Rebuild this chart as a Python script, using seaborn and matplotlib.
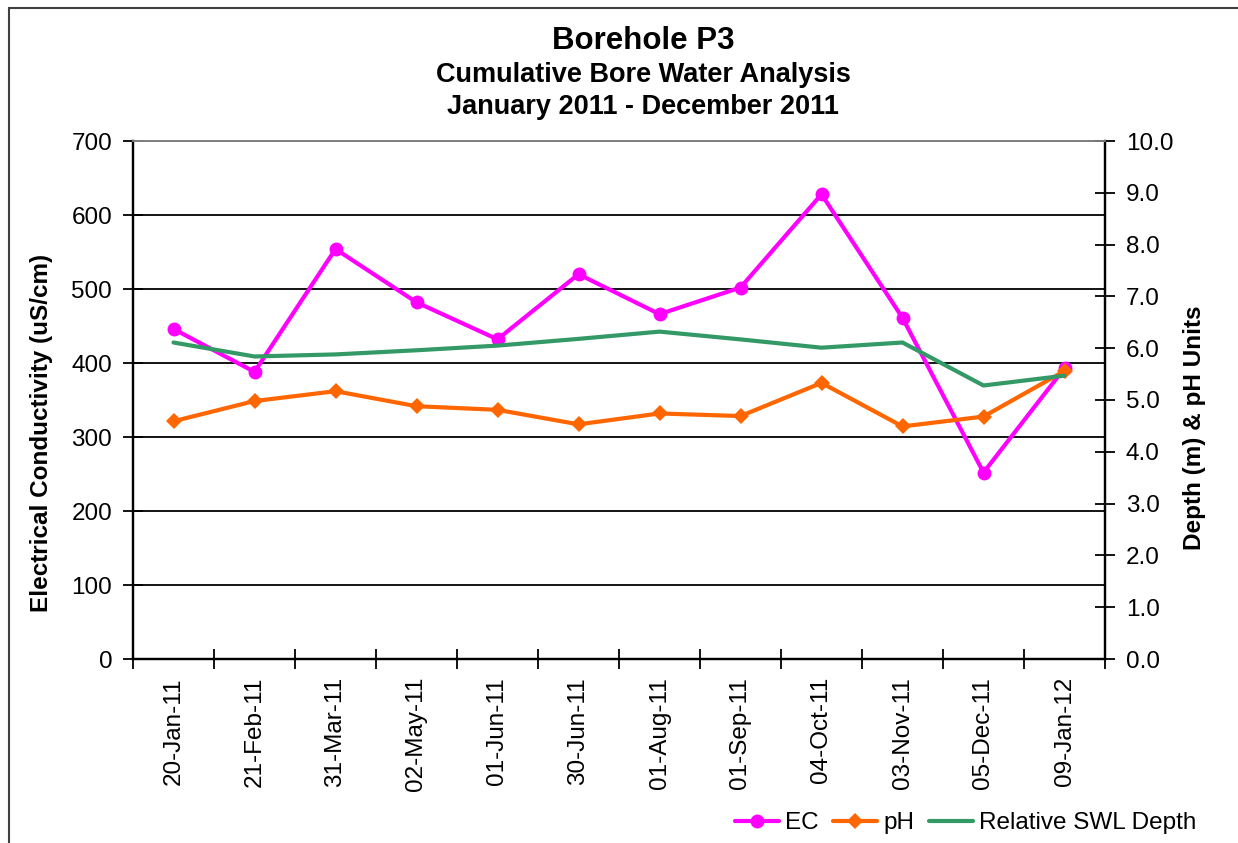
import numpy as np
import pandas as pd
import matplotlib
matplotlib.use("Agg")
import matplotlib.pyplot as plt
from matplotlib.lines import Line2D
from matplotlib.patches import Rectangle
import seaborn as sns

dates = ["20-Jan-11", "21-Feb-11", "31-Mar-11", "02-May-11", "01-Jun-11", "30-Jun-11",
         "01-Aug-11", "01-Sep-11", "04-Oct-11", "03-Nov-11", "05-Dec-11", "09-Jan-12"]
ec = [446, 388, 554, 482, 432, 520, 466, 502, 628, 461, 252, 393]
ph = [4.59, 4.98, 5.17, 4.88, 4.81, 4.53, 4.74, 4.69, 5.33, 4.49, 4.68, 5.56]
swl = [6.11, 5.84, 5.88, 5.96, 6.05, 6.18, 6.32, 6.17, 6.01, 6.11, 5.28, 5.47]
left_ticks = [0, 100, 200, 300, 400, 500, 600, 700]
right_ticks = [0, 1, 2, 3, 4, 5, 6, 7, 8, 9, 10]

sns.set_theme(style="white")
plt.rcParams['font.family'] = ['Liberation Sans', 'DejaVu Sans']
plt.rcParams.update({"text.color": "black", "axes.labelcolor": "black",
                     "xtick.color": "black", "ytick.color": "black"})

W, H = 1238, 843
fig = plt.figure(figsize=(W / 100, H / 100), dpi=100)
ax = fig.add_axes([133 / W, 1 - 659 / H, 972 / W, 518 / H])
ax2 = ax.twinx()

df = pd.DataFrame({"pos": np.arange(len(dates)), "date": dates, "EC": ec, "pH": ph, "SWL": swl})

c_ec, c_ph, c_swl = "#FF00FF", "#FF6600", "#339966"

ax.yaxis.grid(True, color="black", lw=1.3)
ax.set_axisbelow(True)
sns.lineplot(data=df, x="pos", y="EC", ax=ax, color=c_ec, lw=3, marker="o",
             markersize=10, markeredgewidth=0, sort=False, zorder=3)
sns.lineplot(data=df, x="pos", y="pH", ax=ax2, color=c_ph, lw=3, marker="D",
             markersize=8, markeredgewidth=0, sort=False, zorder=3)
sns.lineplot(data=df, x="pos", y="SWL", ax=ax2, color=c_swl, lw=3, sort=False, zorder=4)

ax.set_xlim(-0.5, len(dates) - 0.5)
ax.set_ylim(0, 700)
ax2.set_ylim(0, 10)
ax.set_yticks(left_ticks)
ax.set_yticklabels([str(v) for v in left_ticks])
ax2.set_yticks(right_ticks)
ax2.set_yticklabels([f"{v:.1f}" for v in right_ticks])

ax.set_xticks(df["pos"])
ax.set_xticklabels(dates, rotation=90)
ax.set_xticks(np.arange(-0.5, len(dates), 1.0), minor=True)
ax.tick_params(axis="x", which="major", length=0, pad=13, labelsize=17.5, colors="black")
ax.tick_params(axis="x", which="minor", length=14, width=1.3, direction="inout", bottom=True, color="black")
ax.tick_params(axis="y", which="major", length=14, width=1.3, direction="inout", left=True,
               pad=8, labelsize=17.5, colors="black")
ax2.tick_params(axis="y", which="major", length=14, width=1.3, direction="inout", right=True,
                pad=8, labelsize=17.5, colors="black")

for a in (ax, ax2):
    a.set_xlabel("")
    a.set_ylabel("")
    for s in a.spines.values():
        s.set_linewidth(1.6)
        s.set_color("black")
    a.spines["top"].set_color("#808080")
    a.spines["top"].set_linewidth(1.3)

fig.text(42 / W, 1 - 433 / H, "Electrical Conductivity (uS/cm)", rotation=90,
         ha="center", va="center", fontsize=17.5, fontweight="bold", color="black")
fig.text(1195 / W, 1 - 428 / H, "Depth (m) & pH Units", rotation=90,
         ha="center", va="center", fontsize=17.5, fontweight="bold", color="black")

fig.text(643 / W, 1 - 41 / H, "Borehole P3", ha="center", va="center",
         fontsize=22.5, fontweight="bold", color="black")
fig.text(643 / W, 1 - 75 / H, "Cumulative Bore Water Analysis", ha="center", va="center",
         fontsize=19.5, fontweight="bold", color="black")
fig.text(643 / W, 1 - 107 / H, "January 2011 - December 2011", ha="center", va="center",
         fontsize=19.5, fontweight="bold", color="black")

handles = [
    Line2D([], [], color=c_ec, lw=3, marker="o", markersize=10, markeredgewidth=0),
    Line2D([], [], color=c_ph, lw=3, marker="D", markersize=8, markeredgewidth=0),
    Line2D([], [], color=c_swl, lw=3),
]
leg = fig.legend(handles, ["EC", "pH", "Relative SWL Depth"], ncol=3, frameon=False,
                 loc="center right", bbox_to_anchor=(1196 / W, 1 - 823 / H),
                 fontsize=17.5, handlelength=1.8, handletextpad=0.25, columnspacing=0.6,
                 borderpad=0, borderaxespad=0)
for t in leg.get_texts():
    t.set_color("black")

fig.patches.append(Rectangle((9 / W, -0.05), 1.1, 1 - 8 / H + 0.05, transform=fig.transFigure,
                             fill=False, edgecolor="#404040", lw=1.5))

fig.savefig("out.png", dpi=100)
